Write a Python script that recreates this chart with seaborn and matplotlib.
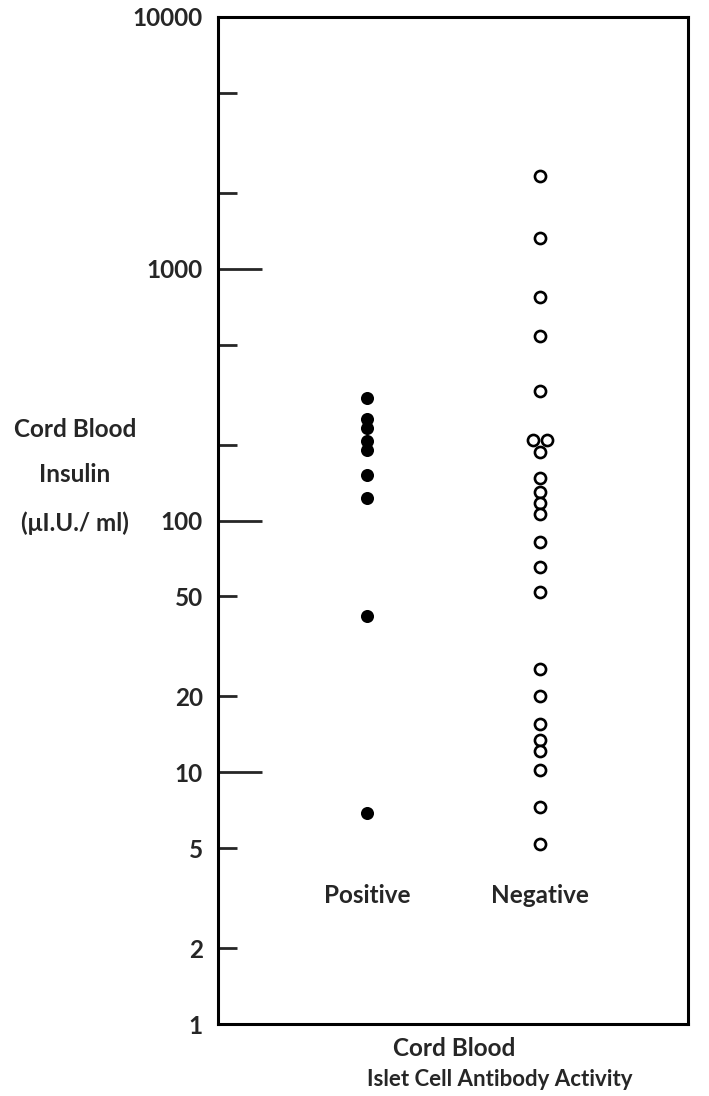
import numpy as np
import pandas as pd
import matplotlib
matplotlib.use("Agg")
import matplotlib.pyplot as plt
import seaborn as sns

# values (cord blood insulin, uIU/ml)
positive = [306, 253, 233, 206, 191, 151, 123, 41.8, 6.9]
negative = [2330, 1320, 770, 540, 327, 209, 209, 187, 147, 130, 117, 106,
            82, 65.5, 51.8, 25.7, 20, 15.5, 13.4, 12.1, 10.2, 7.3, 5.2]
groups = ["Positive", "Negative"]

major_ticks = [1, 10, 100, 1000, 10000]
major_labels = ["1", "10", "100", "1000", "10000"]
minor_ticks = [2, 5, 20, 50, 200, 500, 2000, 5000]
minor_labels = ["2", "5", "20", "50", "", "", "", ""]

df = pd.DataFrame({
    "group": ["Positive"] * len(positive) + ["Negative"] * len(negative),
    "insulin": positive + negative,
})

sns.set_style("white")
plt.rcParams["font.family"] = ["Lato", "DejaVu Sans"]
plt.rcParams["font.weight"] = "bold"

fig = plt.figure(figsize=(7.09, 10.96), dpi=100)
ax = fig.add_axes([218 / 709, 1 - 1024 / 1096, 470 / 709, 1007 / 1096])
ax.set_yscale("log")

sns.stripplot(data=df[df.group == "Positive"], x="group", y="insulin",
              order=groups, jitter=False, color="black", size=9.4,
              linewidth=0, ax=ax)
sns.stripplot(data=df[df.group == "Negative"], x="group", y="insulin",
              order=groups, jitter=False, color="white", edgecolor="black",
              size=8, linewidth=1.9, ax=ax)

# spread tied values side by side, like the original
for coll in ax.collections:
    offs = np.array(coll.get_offsets(), dtype=float)
    if len(offs) < 2:
        continue
    keys = np.round(np.log10(offs[:, 1]), 6)
    vals, counts = np.unique(keys, return_counts=True)
    for v, c in zip(vals, counts):
        if c > 1:
            idx = np.where(keys == v)[0]
            offs[idx, 0] += np.linspace(-0.04, 0.04, c)
    coll.set_offsets(offs)

ax.set_xlim(-0.861, 1.856)
ax.set_ylim(1, 10000)
ax.set_yticks(major_ticks)
ax.set_yticklabels(major_labels)
ax.set_yticks(minor_ticks, minor=True)
ax.set_yticklabels(minor_labels, minor=True)
ax.set_xticks([])
ax.set_xlabel("")
ax.set_ylabel("")

ax.tick_params(axis="y", which="major", direction="in", length=32, width=2,
               pad=11, labelsize=17.5, left=True)
ax.tick_params(axis="y", which="minor", direction="in", length=14, width=2,
               pad=11, labelsize=17.5, left=True)
for lab in ax.get_yticklabels(which="both"):
    lab.set_fontweight("bold")

for s in ax.spines.values():
    s.set_linewidth(2.2)
    s.set_color("black")

for i, g in enumerate(groups):
    ax.text(i, 3.25, g, ha="center", va="center", fontsize=17.5,
            fontweight="bold")

fig.text(75 / 709, 1 - 429 / 1096, "Cord Blood", ha="center", va="center",
         fontsize=17.5, fontweight="bold")
fig.text(75 / 709, 1 - 474 / 1096, "Insulin", ha="center", va="center",
         fontsize=17.5, fontweight="bold")
fig.text(75 / 709, 1 - 523 / 1096, "(μI.U./ ml)", ha="center", va="center",
         fontsize=17.5, fontweight="bold")

fig.text(454 / 709, 1 - 1048 / 1096, "Cord Blood", ha="center", va="center",
         fontsize=17.5, fontweight="bold")
fig.text(500 / 709, 1 - 1080 / 1096, "Islet Cell Antibody Activity",
         ha="center", va="center", fontsize=16, fontweight="bold")

fig.savefig("out.png", dpi=100)
